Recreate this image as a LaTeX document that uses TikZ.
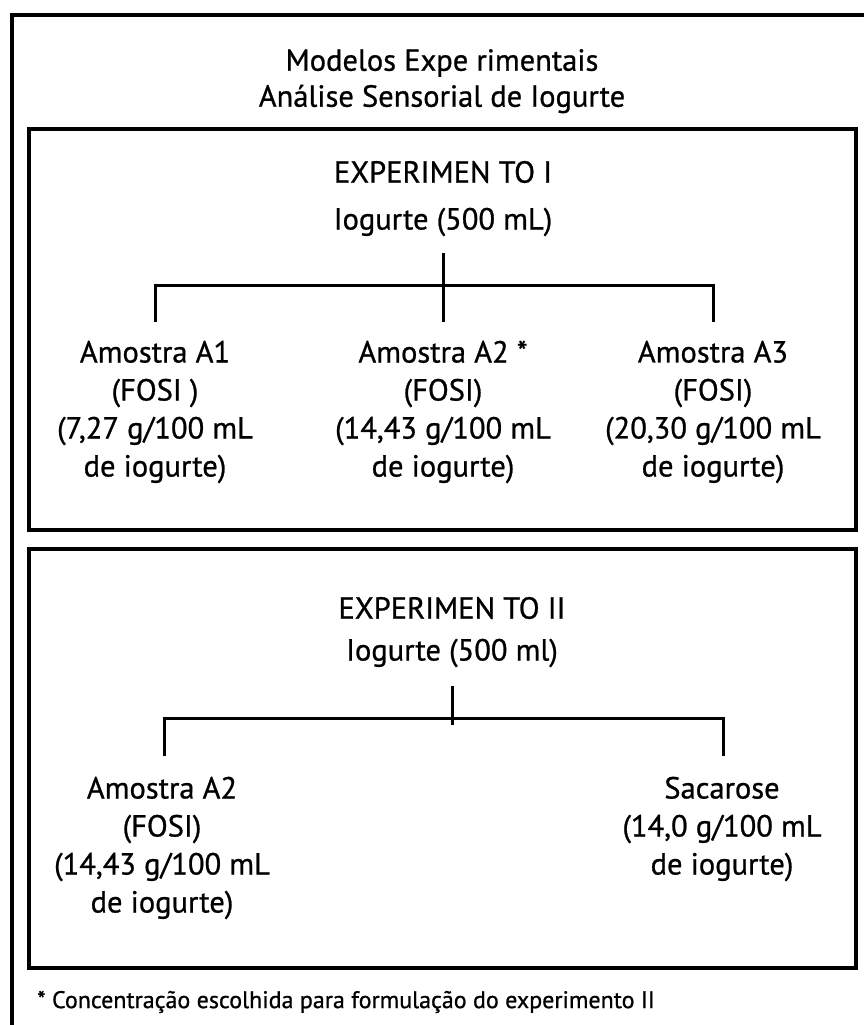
\documentclass[tikz,border=0pt]{standalone}
\usepackage{fontspec}
\setmainfont[FakeBold=0.8]{PT Sans}
\usetikzlibrary{positioning}

\tikzset{
  frame/.style={draw, line width=3.6pt},
  branch/.style={draw, line width=3pt},
  txt/.style={font=\fontsize{30.5}{38}\selectfont, inner sep=0pt, align=center},
  note/.style={font=\fontsize{24}{26}\selectfont, inner sep=0pt, anchor=west},
}

\begin{document}
\begin{tikzpicture}[x=1pt, y=-1pt]
  \useasboundingbox (0,0) rectangle (863,1025);

  % Frames
  \draw[frame] (12,15) rectangle (890,1050);
  \draw[frame] (29,129) rectangle (856,530);
  \draw[frame] (29,549) rectangle (856,968);

  % Title
  \node[txt] (title1) at (442,63) {Modelos Expe rimentais};
  \node[txt] (title2) at (442,99) {Análise Sensorial de Iogurte};

  % Experimento I
  \node[txt] (exp1) at (443,172) {EXPERIMEN TO I};
  \node[txt] (io1) at (443,222) {Iogurte (500 mL)};
  \node[txt] (a1) at (155,412) {Amostra A1\\(FOSI )\\(7,27 g/100 mL\\de iogurte)};
  \node[txt] (a2) at (443,412) {Amostra A2 *\\(FOSI)\\(14,43 g/100 mL\\de iogurte)};
  \node[txt] (a3) at (713,412) {Amostra A3\\(FOSI)\\(20,30 g/100 mL\\de iogurte)};

  \coordinate (st1) at (443,253);
  \coordinate (j1) at (443,285);
  \coordinate (d1) at (155,322);
  \coordinate (d2) at (443,322);
  \coordinate (d3) at (713,322);

  \draw[branch] (st1) -- (d2);
  \draw[branch] (d1) |- (j1) -| (d3);

  % Experimento II
  \node[txt] (exp2) at (452,608) {EXPERIMEN TO II};
  \node[txt] (io2) at (452,653) {Iogurte (500 ml)};
  \node[txt] (b1) at (162,848) {Amostra A2\\(FOSI)\\(14,43 g/100 mL\\de iogurte)};
  \node[txt] (b2) at (722,829) {Sacarose\\(14,0 g/100 mL\\de iogurte)};

  \coordinate (st2) at (452,686);
  \coordinate (j2) at (452,718);
  \coordinate (e0) at (452,725);
  \coordinate (e1) at (164,756);
  \coordinate (e2) at (723,756);

  \draw[branch] (st2) -- (e0);
  \draw[branch] (e1) |- (j2) -| (e2);

  % Footnote
  \node[note] (fn) at (37,1002) {* Concentração escolhida para formulação do experimento II};
\end{tikzpicture}
\end{document}
